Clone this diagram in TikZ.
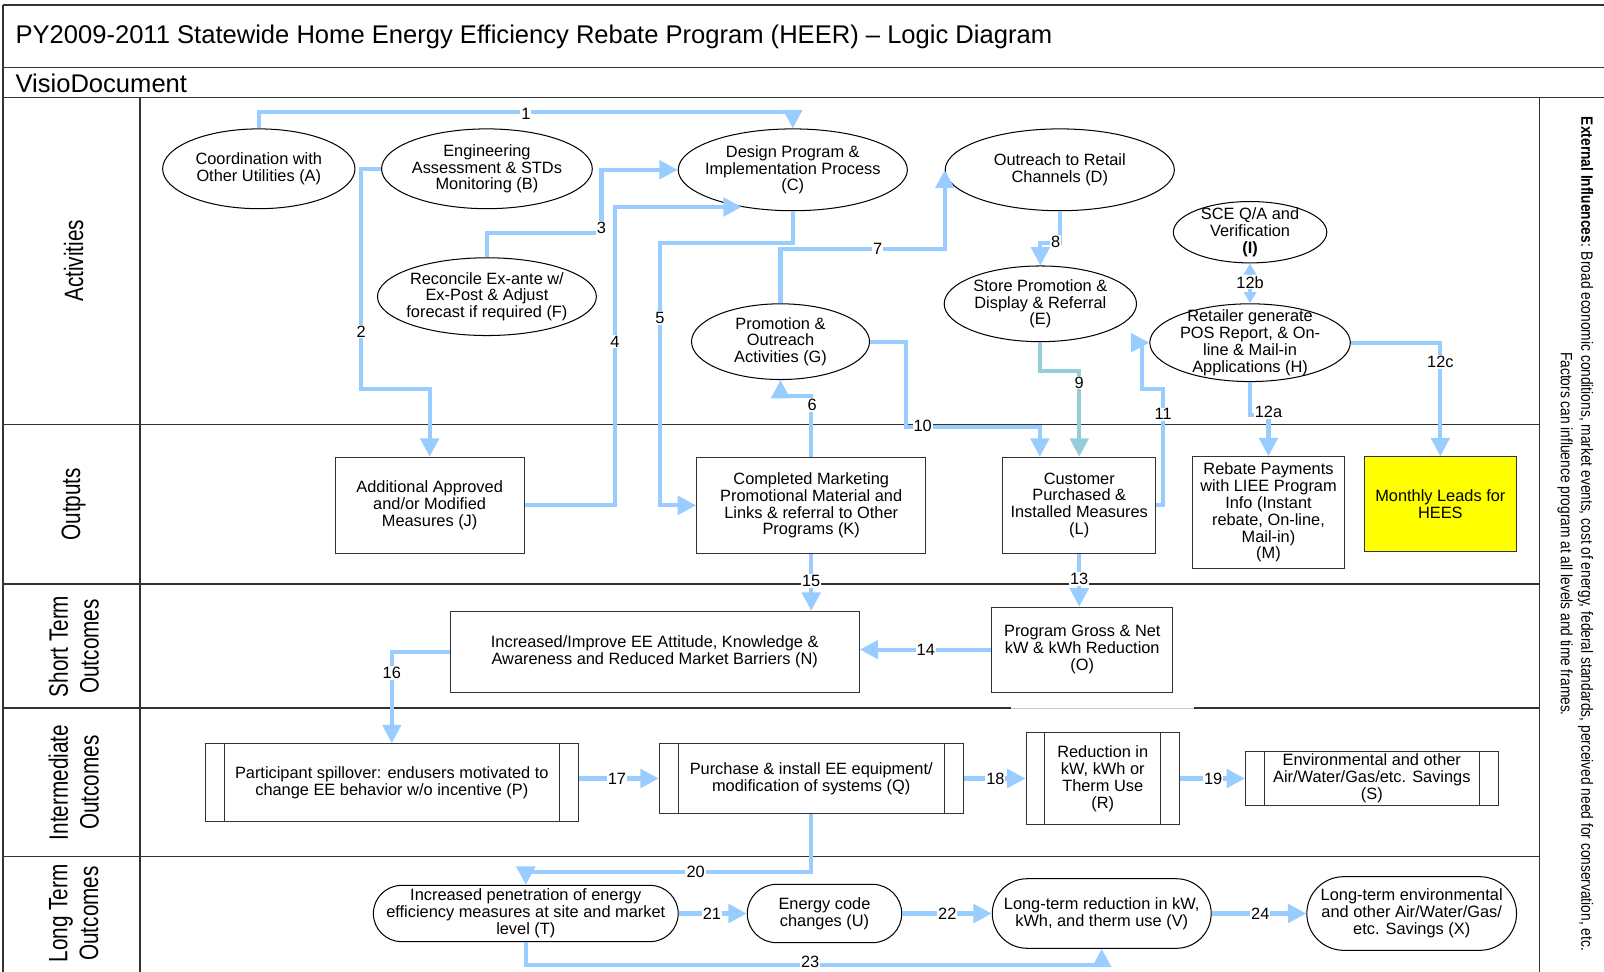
\documentclass[tikz,border=0pt]{standalone}
\usepackage{fontspec}
\setmainfont{Liberation Sans}
\newfontfamily\narrowfont[FakeStretch=0.78]{Liberation Sans}
\newfontfamily\extfont[FakeStretch=0.84]{Liberation Sans}
\usetikzlibrary{arrows.meta,shapes.geometric,shapes.misc}

\definecolor{linkblue}{RGB}{153,204,255}
\definecolor{linkteal}{RGB}{150,205,216}
\definecolor{leadyellow}{RGB}{255,255,0}
\newcommand{\nodefont}{\fontsize{16}{16.5}\selectfont}
\newcommand{\numfont}{\fontsize{16}{16}\selectfont}

\tikzset{
  lane/.style={draw=black!80, line width=1.3},
  ell/.style={ellipse, draw=black, line width=1, inner sep=0},
  box/.style={rectangle, draw=black!80, line width=1, inner sep=0, align=center, font=\nodefont},
  pill/.style={rounded rectangle, draw=black, line width=1, inner sep=0},
  txt/.style={align=center, font=\nodefont, inner sep=0},
  link/.style={draw=linkblue, line width=4, -{Triangle[length=18pt,width=18pt]}},
  num/.style={fill=white, inner sep=1, font=\numfont},
  lanelab/.style={font=\narrowfont\fontsize{26}{30}\selectfont, align=center},
}

\begin{document}
\begin{tikzpicture}[x=1pt, y=-1pt]
    \useasboundingbox (0,0) rectangle (1568,950);

    % frame
    \draw[lane] (3,5) -- (1568,5);
    \draw[lane] (3,66) -- (1568,66);
    \draw[lane] (3,95) -- (1568,95);
    \draw[lane] (3,5) -- (3,950);
    \draw[lane] (137,95) -- (137,950);
    \draw[lane] (1505,95) -- (1505,950);
    \draw[lane] (3,415) -- (1505,415);
    \draw[lane] (3,571) -- (1505,571);
    \draw[lane] (3,692) -- (988,692);
    \draw[gray!40, line width=0.6] (988,692) -- (1167,692);
    \draw[lane] (1167,692) -- (1505,692);
    \draw[lane] (3,837) -- (1505,837);

    % title
    \node[anchor=west, inner sep=0, font=\fontsize{25}{30}\selectfont] (title) at (15,36) {PY2009-2011 Statewide Home Energy Efficiency Rebate Program (HEER) – Logic Diagram};
    \node[anchor=west, inner sep=0, font=\fontsize{25}{30}\selectfont] (visio) at (15,81) {VisioDocument};

    % lane names
    \node[lanelab, rotate=90] (lact) at (72,255) {Activities};
    \node[lanelab, rotate=90] (lout) at (72,493) {Outputs};
    \node[lanelab, rotate=90] (lshort) at (72,632) {Short Term\\Outcomes};
    \node[lanelab, rotate=90] (linter) at (72,765) {Intermediate\\Outcomes};
    \node[lanelab, rotate=90] (llong) at (72,893) {Long Term\\Outcomes};
    \node[rotate=-90, align=center, font=\extfont\fontsize{16}{20}\selectfont] (ext) at (1540,522) {\textbf{External Influences}: Broad economic conditions, market events, cost of energy, federal standards, perceived need for conservation, etc.\\Factors can influence program at all levels and time frames.};

    % activities
    \node[ell, minimum width=188, minimum height=78, label={[txt]center:{Coordination with\\Other Utilities (A)}}] (A) at (253,165) {};
    \node[ell, minimum width=206, minimum height=78, label={[txt]center:{Engineering\\Assessment \& STDs\\Monitoring (B)}}] (B) at (476,165) {};
    \node[ell, minimum width=224, minimum height=80, label={[txt]center:{Design Program \&\\Implementation Process\\(C)}}] (C) at (775,166) {};
    \node[ell, minimum width=224, minimum height=80, label={[txt]center:{Outreach to Retail\\Channels (D)}}] (D) at (1036,166) {};
    \node[ell, minimum width=214, minimum height=76, label={[txt]center:{Reconcile Ex-ante w/\\Ex-Post \& Adjust\\forecast if required (F)}}] (F) at (476,290) {};
    \node[ell, minimum width=174, minimum height=74, label={[txt]center:{Promotion \&\\Outreach\\Activities (G)}}] (G) at (763,334) {};
    \node[ell, minimum width=188, minimum height=74, label={[txt]center:{Store Promotion \&\\Display \& Referral\\(E)}}] (E) at (1017,297) {};
    \node[ell, minimum width=150, minimum height=60, label={[txt]center:{SCE Q/A and\\Verification\\\textbf{(I)}}}] (I) at (1222,227) {};
    \node[ell, minimum width=196, minimum height=76, label={[txt]center:{Retailer generate\\POS Report, \& On-\\line \& Mail-in\\Applications (H)}}] (H) at (1222,335) {};

    % outputs
    \node[box, minimum width=185, minimum height=94] (J) at (420,494) {Additional Approved\\and/or Modified\\Measures (J)};
    \node[box, minimum width=224, minimum height=94] (K) at (793,494) {Completed Marketing\\Promotional Material and\\Links \& referral to Other\\Programs (K)};
    \node[box, minimum width=150, minimum height=94] (L) at (1055,494) {Customer\\Purchased \&\\Installed Measures\\(L)};
    \node[box, minimum width=149, minimum height=109] (M) at (1240,501) {Rebate Payments\\with LIEE Program\\Info (Instant\\rebate, On-line,\\Mail-in)\\(M)};
    \node[box, fill=leadyellow, minimum width=149, minimum height=93] (HEES) at (1408,493) {Monthly Leads for\\HEES};

    % short term
    \node[box, minimum width=400, minimum height=79] (N) at (640,637) {Increased/Improve EE Attitude, Knowledge \&\\Awareness and Reduced Market Barriers (N)};
    \node[box, minimum width=177, minimum height=83] (O) at (1058,635) {Program Gross \& Net\\kW \& kWh Reduction\\(O)};

    % intermediate
    \node[box, minimum width=365, minimum height=76] (P) at (383,765) {Participant spillover: endusers motivated to\\change EE behavior w/o incentive (P)};
    \node[box, minimum width=297, minimum height=69] (Q) at (793,761) {Purchase \& install EE equipment/\\modification of systems (Q)};
    \node[box, minimum width=150, minimum height=90] (R) at (1078,761) {Reduction in\\kW, kWh or\\Therm Use\\(R)};
    \node[box, minimum width=247, minimum height=53] (S) at (1341,761) {Environmental and other\\Air/Water/Gas/etc. Savings\\(S)};
    \foreach \b in {P,Q,R,S} {
        \draw[draw=black!80, line width=1] ([xshift=19pt]\b.north west) -- ([xshift=19pt]\b.south west);
        \draw[draw=black!80, line width=1] ([xshift=-19pt]\b.north east) -- ([xshift=-19pt]\b.south east);
    }

    % long term
    \node[pill, minimum width=298, minimum height=55, label={[txt]center:{Increased penetration of energy\\efficiency measures at site and market\\level (T)}}] (T) at (514,893) {};
    \node[pill, minimum width=151, minimum height=57, label={[txt]center:{Energy code\\changes (U)}}] (U) at (806,893) {};
    \node[pill, minimum width=214, minimum height=68, label={[txt]center:{Long-term reduction in kW,\\kWh, and therm use (V)}}] (V) at (1077,893) {};
    \node[pill, minimum width=205, minimum height=72, label={[txt]center:{Long-term environmental\\and other Air/Water/Gas/\\etc. Savings (X)}}] (X) at (1380,893) {};

    % links
    \draw[link] (A.north) -- ++(0,-16) -| (C.north);
    \draw[link] (B.west) -- ++(-20,0) -- ++(0,215) -| (J.north);
    \draw[link] (F.north) -- ++(0,-24) -- ++(112,0) |- (C.west);
    \draw[link] (J.east) -- ++(88,0) |- (C.216);
    \draw[link] (C.south) -- ++(0,31) -- ++(-130,0) |- (K.west);
    \draw[link] (K.north) -- ++(0,-59) -| (G.south);
    \draw[link] (G.north) -- ++(0,-53) -| (D.west);
    \draw[link] (D.south) -- ++(0,31) -| (E.north);
    \draw[link, draw=linkteal] (E.south) -- ++(0,28) -| (L.north);
    \draw[link] (G.east) -- ++(35,0) -- ++(0,83) -| ([xshift=37pt]L.north west);
    \draw[link] (L.east) -- ++(6,0) -- ++(0,-114) -- ++(-20,0) |- (H.west);
    \draw[link] (H.south) -- ++(0,32) -| (M.north);
    \draw[link, {Triangle[length=11pt,width=12pt]}-{Triangle[length=11pt,width=12pt]}] (I.south) -- (H.north);
    \draw[link] (H.east) -| (HEES.north);
    \draw[link] (L.south) -- (L.south |- O.north);
    \draw[link] (O.west) -- (O.west -| N.east);
    \draw[link] (K.south) -- (K.south |- N.north);
    \draw[link] (N.west) -| (P.north);
    \draw[link] (P.east |- Q.west) -- (Q.west);
    \draw[link] (Q.east) -- (R.west);
    \draw[link] (R.east) -- (S.west);
    \draw[link] (Q.south) -- ++(0,56) -| (T.north);
    \draw[link] (T.east) -- (U.west);
    \draw[link] (U.east) -- (V.west);
    \draw[link] (T.south) -- ++(0,22) -| (V.south);
    \draw[link] (V.east) -- (X.west);

    % numbers
    \node[num] (n1) at (514,111) {1};
    \node[num] (n2) at (353,324) {2};
    \node[num] (n3) at (588,223) {3};
    \node[num] (n4) at (601,334) {4};
    \node[num] (n5) at (645,311) {5};
    \node[num] (n6) at (794,396) {6};
    \node[num] (n7) at (858,243) {7};
    \node[num] (n8) at (1032,236) {8};
    \node[num] (n9) at (1055,374) {9};
    \node[num] (n10) at (902,416) {10};
    \node[num] (n11) at (1137,405) {11};
    \node[num] (n12a) at (1240,403) {12a};
    \node[num] (n12b) at (1222,276) {12b};
    \node[num] (n12c) at (1408,354) {12c};
    \node[num] (n13) at (1055,566) {13};
    \node[num] (n14) at (905,635) {14};
    \node[num] (n15) at (793,568) {15};
    \node[num] (n16) at (383,658) {16};
    \node[num] (n17) at (603,761) {17};
    \node[num] (n18) at (973,761) {18};
    \node[num] (n19) at (1186,761) {19};
    \node[num] (n20) at (680,852) {20};
    \node[num] (n21) at (696,893) {21};
    \node[num] (n22) at (926,893) {22};
    \node[num] (n23) at (792,940) {23};
    \node[num] (n24) at (1232,893) {24};
\end{tikzpicture}
\end{document}
